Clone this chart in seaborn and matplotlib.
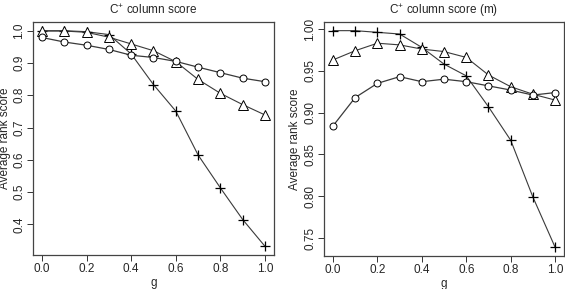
import numpy as np
import pandas as pd
import matplotlib
matplotlib.use('Agg')
import matplotlib.pyplot as plt
import seaborn as sns

# valeurs
g = [0.0, 0.1, 0.2, 0.3, 0.4, 0.5, 0.6, 0.7, 0.8, 0.9, 1.0]

left_circle = [0.979, 0.965, 0.955, 0.942, 0.924, 0.917, 0.905, 0.887, 0.870, 0.853, 0.842]
left_triangle = [0.999, 0.999, 0.995, 0.980, 0.959, 0.938, 0.904, 0.849, 0.806, 0.771, 0.739]
left_cross = [1.000, 1.000, 0.997, 0.988, 0.928, 0.833, 0.751, 0.615, 0.513, 0.415, 0.332]

right_circle = [0.884, 0.918, 0.935, 0.943, 0.937, 0.940, 0.937, 0.932, 0.927, 0.921, 0.924]
right_triangle = [0.963, 0.974, 0.983, 0.981, 0.976, 0.973, 0.966, 0.945, 0.931, 0.922, 0.915]
right_cross = [0.998, 0.998, 0.996, 0.994, 0.978, 0.958, 0.944, 0.907, 0.867, 0.799, 0.739]

titles = [r'C$^{+}$ column score', r'C$^{+}$ column score (m)']
left_yticks = [0.4, 0.5, 0.6, 0.7, 0.8, 0.9, 1.0]
right_yticks = [0.75, 0.80, 0.85, 0.90, 0.95, 1.00]
xticks = [0.0, 0.2, 0.4, 0.6, 0.8, 1.0]

sns.set_style('ticks')
plt.rcParams['font.family'] = ['Liberation Sans', 'DejaVu Sans']
plt.rcParams['mathtext.fontset'] = 'custom'
plt.rcParams['mathtext.rm'] = 'Liberation Sans'

fig = plt.figure(figsize=(5.65, 2.89), dpi=100)
ax1 = fig.add_axes([0.0584, 0.1176, 0.4265, 0.806])
ax2 = fig.add_axes([0.5735, 0.1142, 0.4248, 0.8097])

linecol = '#3a3a3a'

def draw(ax, circ, tri, cross, yticks, title, ylab_x):
    df = pd.DataFrame({'g': g, 'circ': circ, 'tri': tri, 'cross': cross})
    sns.lineplot(data=df, x='g', y='cross', ax=ax, color=linecol, lw=0.8,
                 marker='+', markersize=7.5, mec='black', mew=0.9)
    sns.lineplot(data=df, x='g', y='tri', ax=ax, color=linecol, lw=0.8,
                 marker='^', markersize=6.5, mfc='white', mec='black', mew=0.7)
    sns.lineplot(data=df, x='g', y='circ', ax=ax, color=linecol, lw=0.9,
                 marker='o', markersize=5, mfc='white', mec='black', mew=0.7)
    # marges à la R (4 %)
    allv = circ + tri + cross
    lo, hi = min(allv), max(allv)
    pad = (hi - lo) * 0.04
    ax.set_ylim(lo - pad, hi + pad)
    ax.set_xlim(-0.04, 1.04)
    ax.set_xticks(xticks)
    ax.set_yticks(yticks)
    ax.set_xlabel('g', fontsize=8.5)
    ax.set_ylabel('Average rank score', fontsize=8.5)
    ax.xaxis.set_label_coords(0.5, -0.095)
    ax.yaxis.set_label_coords(ylab_x, 0.5)
    ax.xaxis.label.set_va('top')
    ax.set_title(title, fontsize=8.5, pad=6)
    ax.tick_params(direction='out', length=4, width=0.7, labelsize=8.5, pad=1.5, color='#333333')
    plt.setp(ax.get_yticklabels(), rotation=90, va='center')
    for s in ax.spines.values():
        s.set_visible(True)
        s.set_color('#444444')
        s.set_linewidth(0.9)

draw(ax1, left_circle, left_triangle, left_cross, left_yticks, titles[0], -0.093)
draw(ax2, right_circle, right_triangle, right_cross, right_yticks, titles[1], -0.098)

fig.savefig('out.png', dpi=100)
